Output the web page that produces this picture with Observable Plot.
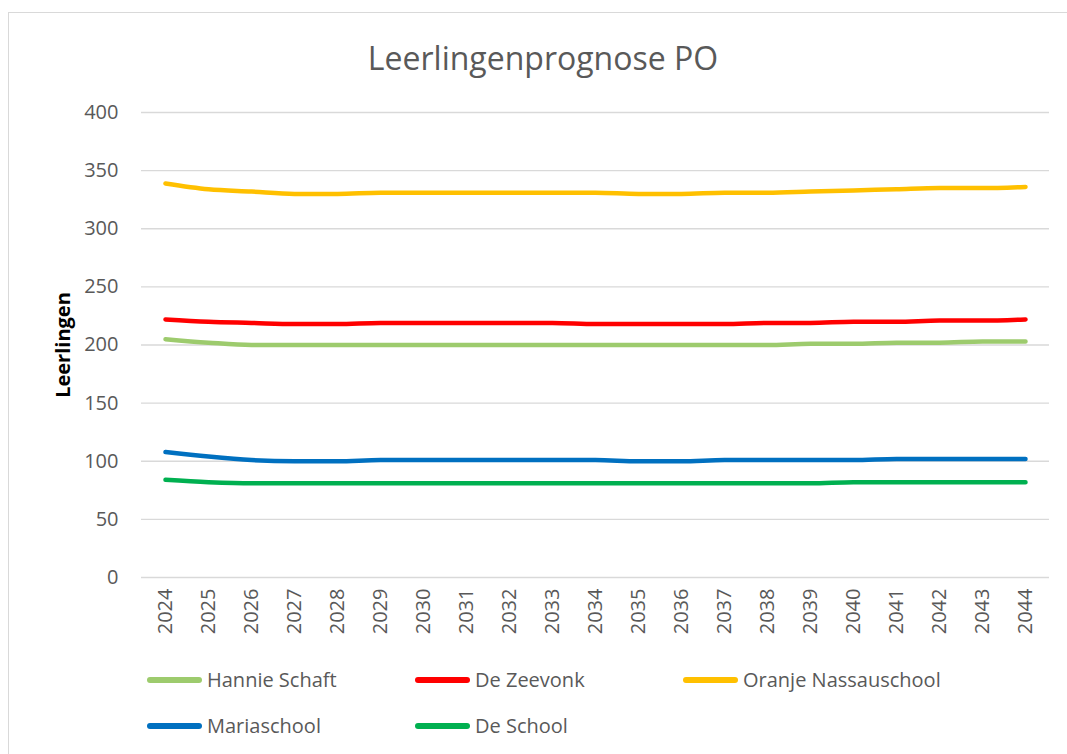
<!DOCTYPE html>
<html>
<head>
<meta charset="utf-8">
<script src="https://cdn.jsdelivr.net/npm/d3@7"></script>
<script src="https://cdn.jsdelivr.net/npm/@observablehq/plot@0.6"></script>
<style>
  html, body { margin: 0; padding: 0; background: #fff; }
  #wrap { position: relative; width: 1067px; height: 754px; overflow: hidden; font-family: "Open Sans", sans-serif; }
  #frame { position: absolute; left: 8px; top: 12px; width: 1070px; height: 760px; border: 1.5px solid #d9d9d9; box-sizing: border-box; }
  #title { position: absolute; left: 0; width: 1086px; top: 36px; text-align: center; font-size: 32px; color: #595959; }
  #ylabel { position: absolute; left: 62px; top: 345px; transform: translate(-50%, -50%) rotate(-90deg); font-size: 20px; font-weight: bold; color: #000; white-space: nowrap; }
  #chart { position: absolute; left: 0; top: 0; }
  .leg { position: absolute; display: flex; align-items: center; font-size: 20px; color: #595959; white-space: nowrap; line-height: 26px; }
  .leg .sw { width: 55px; height: 6px; border-radius: 3px; margin-right: 5px; }
</style>
</head>
<body>
<div id="wrap">
  <div id="frame"></div>
  <div id="chart"></div>
  <div id="title">Leerlingenprognose PO</div>
  <div id="ylabel">Leerlingen</div>
  <div id="legend"></div>
</div>
<script>
const years = ["2024","2025","2026","2027","2028","2029","2030","2031","2032","2033","2034","2035","2036","2037","2038","2039","2040","2041","2042","2043","2044"];
const seriesNames = ["Hannie Schaft", "De Zeevonk", "Oranje Nassauschool", "Mariaschool", "De School"];
const seriesColors = ["#9dcb6d", "#ff0000", "#ffc000", "#0070c0", "#00b050"];
const hannieSchaft = [205, 202, 200, 200, 200, 200, 200, 200, 200, 200, 200, 200, 200, 200, 200, 201, 201, 202, 202, 203, 203];
const deZeevonk   = [222, 220, 219, 218, 218, 219, 219, 219, 219, 219, 218, 218, 218, 218, 219, 219, 220, 220, 221, 221, 222];
const oranjeNassau = [339, 334, 332, 330, 330, 331, 331, 331, 331, 331, 331, 330, 330, 331, 331, 332, 333, 334, 335, 335, 336];
const mariaschool = [108, 104, 101, 100, 100, 101, 101, 101, 101, 101, 101, 100, 100, 101, 101, 101, 101, 102, 102, 102, 102];
const deSchool    = [84, 82, 81, 81, 81, 81, 81, 81, 81, 81, 81, 81, 81, 81, 81, 81, 82, 82, 82, 82, 82];
const yTicks = [0, 50, 100, 150, 200, 250, 300, 350, 400];

const seriesValues = [hannieSchaft, deZeevonk, oranjeNassau, mariaschool, deSchool];
const data = [];
seriesNames.forEach((name, i) => {
  years.forEach((yr, j) => data.push({series: name, year: yr, value: seriesValues[i][j]}));
});

const chart = Plot.plot({
  width: 1067,
  height: 754,
  marginTop: 112,
  marginBottom: 177,
  marginLeft: 141,
  marginRight: 18,
  style: {fontFamily: "'Open Sans', sans-serif", fontSize: "20px", color: "#595959", background: "transparent", overflow: "visible"},
  x: {type: "point", domain: years, padding: 0.5, label: null},
  y: {domain: [0, 400], label: null},
  color: {domain: seriesNames, range: seriesColors},
  marks: [
    Plot.ruleY(yTicks, {stroke: "#d9d9d9", strokeWidth: 1.3}),
    Plot.axisY({ticks: yTicks, tickSize: 0, tickPadding: 23, label: null, fontSize: 20, fill: "#595959"}),
    Plot.axisX({tickRotate: -90, tickSize: 0, tickPadding: 11, label: null, fontSize: 20, fill: "#595959"}),
    Plot.line(data, {x: "year", y: "value", z: "series", stroke: "series", strokeWidth: 4.5, curve: "monotone-x", strokeLinecap: "round", strokeLinejoin: "round"})
  ]
});
document.getElementById("chart").appendChild(chart);

const legendPos = [[147, 680], [415, 680], [683, 680], [147, 726], [415, 726]];
const legend = document.getElementById("legend");
seriesNames.forEach((name, i) => {
  const d = document.createElement("div");
  d.className = "leg";
  d.style.left = legendPos[i][0] + "px";
  d.style.top = (legendPos[i][1] - 13) + "px";
  d.innerHTML = `<span class="sw" style="background:${seriesColors[i]}"></span><span>${name}</span>`;
  legend.appendChild(d);
});
</script>
</body>
</html>
